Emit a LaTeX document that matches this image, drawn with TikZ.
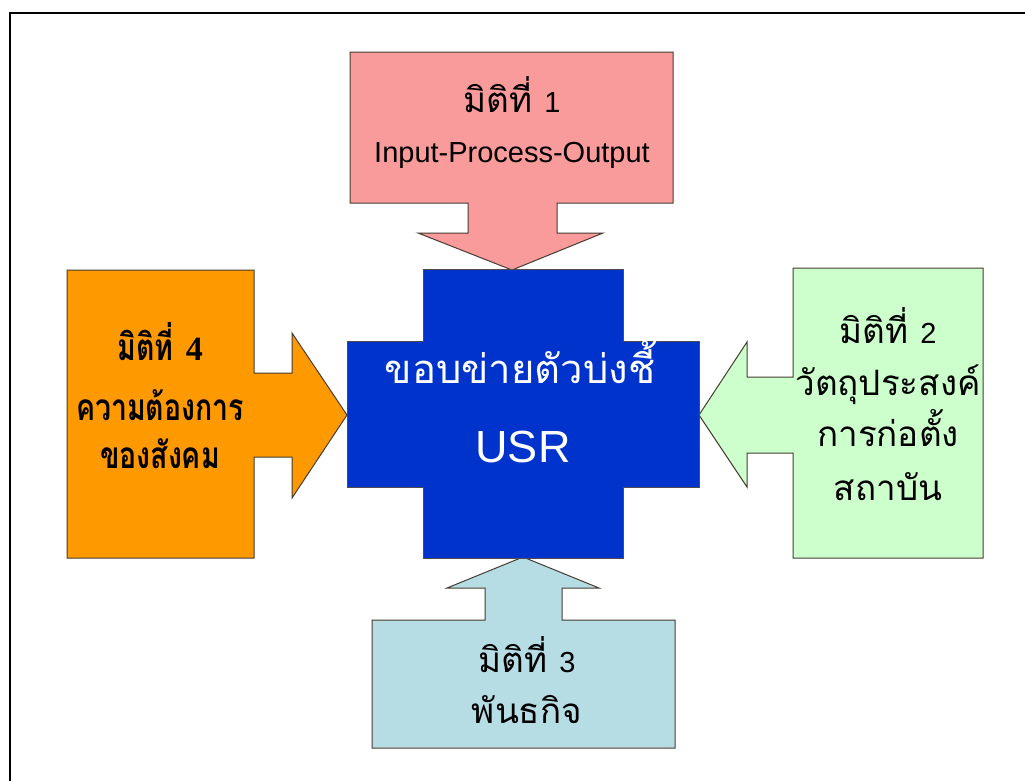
\documentclass[tikz,border=0pt]{standalone}
\usepackage{fontspec}
\setmainfont{Liberation Sans}
\newfontfamily\thai[Script=Thai]{Loma}
\newfontfamily\serifb{Liberation Serif}
\definecolor{pinkf}{RGB}{250,155,155}
\definecolor{orangef}{RGB}{255,153,0}
\definecolor{greenf}{RGB}{204,255,204}
\definecolor{bluef}{RGB}{183,221,228}
\definecolor{crossf}{RGB}{0,51,204}
\definecolor{edgec}{RGB}{70,60,50}
\newcommand{\narrow}[1]{\scalebox{0.77}[1]{#1}}
\begin{document}
\begin{tikzpicture}[x=1pt,y=-1pt,
  blockshape/.style={draw=edgec,line width=1pt,line join=miter},
  lbl/.style={anchor=base,inner sep=0pt,text=black},
  thaimed/.style={lbl,font=\thai\fontsize{35}{40}\selectfont},
  latmed/.style={lbl,font=\fontsize{29}{34}\selectfont},
  thaibold/.style={lbl,font=\thai\bfseries\fontsize{37}{40}\selectfont}]
\useasboundingbox (0,0) rectangle (1025,780);
\fill[white] (0,0) rectangle (1025,780);
\draw[line width=2.2pt] (10,781) -- (10,13) -- (1026,13);
% top arrow (pink)
\draw[blockshape,fill=pinkf] (350,52) -- (673,52) -- (673,203) -- (557,203) -- (557,233) -- (603,233) -- (512,270) -- (418,233) -- (468,233) -- (468,203) -- (350,203) -- cycle;
% left arrow (orange)
\draw[blockshape,fill=orangef] (67,270) -- (254,270) -- (254,373) -- (292,373) -- (292,333) -- (347,415) -- (292,498) -- (292,457) -- (254,457) -- (254,558) -- (67,558) -- cycle;
% right arrow (green)
\draw[blockshape,fill=greenf] (983,268) -- (793,268) -- (793,377) -- (747,377) -- (747,342) -- (699,415) -- (747,487) -- (747,453) -- (793,453) -- (793,558) -- (983,558) -- cycle;
% bottom arrow (light blue)
\draw[blockshape,fill=bluef] (372,620) -- (485,620) -- (485,588) -- (447,588) -- (523,557) -- (599,588) -- (562,588) -- (562,620) -- (675,620) -- (675,748) -- (372,748) -- cycle;
% centre cross
\draw[blockshape,fill=crossf,draw=black!70] (423,269) -- (623,269) -- (623,341) -- (699,341) -- (699,487) -- (623,487) -- (623,558) -- (423,558) -- (423,487) -- (347,487) -- (347,341) -- (423,341) -- cycle;
% texts
\node[thaimed] (t1a) at (512,112) {มิติที่ {\fontspec{Liberation Sans}\fontsize{29}{34}\selectfont 1}};
\node[latmed] (t1b) at (512,162) {Input-Process-Output};
\node[lbl,text=white,font=\thai\fontsize{40}{44}\selectfont] (c1) at (520,383) {ขอบข่ายตัวบ่งชี้};
\node[lbl,text=white,font=\fontsize{45}{50}\selectfont] (c2) at (523,462) {USR};
\node[thaibold] (l1) at (160,360) {\narrow{มิติที่} {\serifb\bfseries\fontsize{34}{36}\selectfont 4}};
\node[thaibold] (l2) at (160,420) {\narrow{ความต้องการ}};
\node[thaibold] (l3) at (160,468) {\narrow{ของสังคม}};
\node[thaimed] (r1) at (888,343) {มิติที่ {\fontspec{Liberation Sans}\fontsize{29}{34}\selectfont 2}};
\node[thaimed] (r2) at (888,395) {วัตถุประสงค์};
\node[thaimed] (r3) at (888,446) {การก่อตั้ง};
\node[thaimed] (r4) at (888,500) {สถาบัน};
\node[thaimed] (b1) at (527,672) {มิติที่ {\fontspec{Liberation Sans}\fontsize{29}{34}\selectfont 3}};
\node[thaimed] (b2) at (527,723) {พันธกิจ};
\end{tikzpicture}
\end{document}
